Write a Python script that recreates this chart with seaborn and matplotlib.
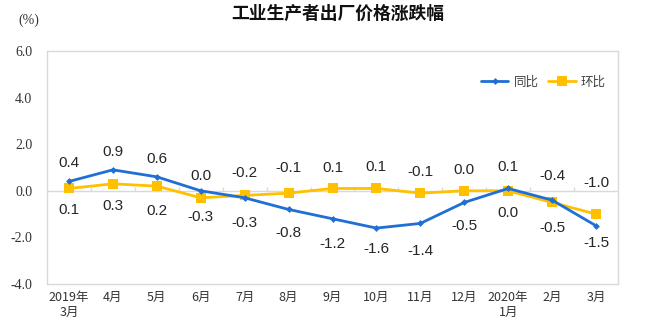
import matplotlib
matplotlib.use("Agg")
import matplotlib.pyplot as plt
import seaborn as sns
import pandas as pd
import numpy as np

# ---- data ----
months = ["2019年\n3月", "4月", "5月", "6月", "7月", "8月", "9月", "10月",
          "11月", "12月", "2020年\n1月", "2月", "3月"]
yoy = [0.4, 0.9, 0.6, 0.0, -0.3, -0.8, -1.2, -1.6, -1.4, -0.5, 0.1, -0.4, -1.5]   # 同比
mom = [0.1, 0.3, 0.2, -0.3, -0.2, -0.1, 0.1, 0.1, -0.1, 0.0, 0.0, -0.5, -1.0]     # 环比
yticks = [-4.0, -2.0, 0.0, 2.0, 4.0, 6.0]
title = "工业生产者出厂价格涨跌幅"

# ---- label layout (pixel offsets, negative = above) ----
yoy_off = [-18, -18, -18, -15, 25, 24, 25, 21, 28, 24, -21, -24, 17]
mom_off = [22, 22, 25, 19, -22, -25, -20, -21, -21, -21, 22, 26, -31]

sns.set_theme(style="white")
plt.rcParams['font.family'] = ['Noto Sans CJK SC', 'DejaVu Sans']

BLUE = "#1F6FD4"
YELLOW = "#FFC000"
FRAME = "#D9D9D9"

fig = plt.figure(figsize=(6.51, 3.35), dpi=100)
ax = fig.add_axes([47/651, 1-284/335, (618-47)/651, (284-51)/335])

df = pd.DataFrame({"pos": np.arange(len(months)), "yoy": yoy, "mom": mom})

sns.lineplot(data=df, x="pos", y="yoy", ax=ax, color=BLUE, linewidth=2.0,
             marker="D", markersize=3.5, markeredgewidth=0, label="同比", zorder=4)
sns.lineplot(data=df, x="pos", y="mom", ax=ax, color=YELLOW, linewidth=2.0,
             marker="s", markersize=6.5, markeredgewidth=0, label="环比", zorder=3)

ax.set_xlim(-0.5, len(months) - 0.5)
ax.set_ylim(yticks[0], yticks[-1])
ax.set_yticks(yticks)
ax.set_yticklabels([f"{v:.1f}" for v in yticks], family=['Liberation Serif'],
                   fontsize=10, color="#333333")
ax.set_xticks(df["pos"])
ax.set_xticklabels(months, fontsize=9, color="#333333", linespacing=1.2)
ax.set_xlabel("")
ax.set_ylabel("")
ax.tick_params(axis="x", length=0, pad=5)
ax.tick_params(axis="y", direction="in", length=3, color=FRAME, width=1, pad=10.5)

for s in ax.spines.values():
    s.set_color(FRAME)
    s.set_linewidth(1.0)
    s.set_visible(True)

# zero axis line with small tick marks
ax.axhline(0, color=FRAME, linewidth=1.0, zorder=1)
ax.vlines(np.arange(len(months) - 1) + 0.5, 0, 0.15, color=FRAME, linewidth=1.0, zorder=1)

# data labels
for x, v, o in zip(df["pos"], yoy, yoy_off):
    ax.annotate(f"{v:.1f}", (x, v), xytext=(0, -o), textcoords="offset pixels",
                ha="center", va="center", fontsize=11, color="#262626",
                family=['Liberation Sans'])
for x, v, o in zip(df["pos"], mom, mom_off):
    ax.annotate(f"{v:.1f}", (x, v), xytext=(0, -o), textcoords="offset pixels",
                ha="center", va="center", fontsize=11, color="#262626",
                family=['Liberation Sans'])

leg = ax.legend(loc="center left", bbox_to_anchor=(0.76, 0.867), ncol=2, frameon=False,
                fontsize=9, handlelength=2.2, handletextpad=0.4, columnspacing=0.8,
                borderaxespad=0, borderpad=0)
for t in leg.get_texts():
    t.set_color("#404040")

fig.text(338/651, 1-14/335, title, ha="center", va="center", fontsize=12.8,
         color="#111111", fontweight="bold")
fig.text(29/651, 1-20/335, "(%)", ha="center", va="center", fontsize=10,
         family=['Liberation Serif'], color="#333333")

fig.savefig("out.png", dpi=100)
